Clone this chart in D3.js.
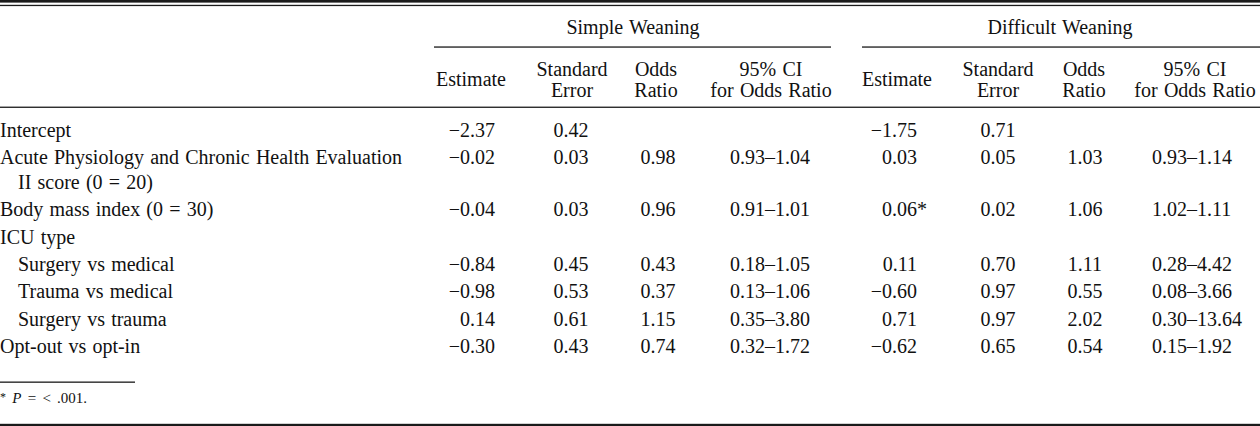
<!DOCTYPE html>
<html>
<head>
<meta charset="utf-8">
<script src="https://cdn.jsdelivr.net/npm/d3@7"></script>
<style>
  html, body { margin: 0; padding: 0; background: #fff; }
  svg { display: block; }
  text { font-family: "Liberation Serif", "Times New Roman", serif; fill: #111; word-spacing: 1.2px; }
</style>
</head>
<body>
<svg id="chart" width="1260" height="426"></svg>
<script>
// ---------- data ----------
const groups = ["Simple Weaning", "Difficult Weaning"];
const colHeaders = [["Estimate"], ["Standard", "Error"], ["Odds", "Ratio"], ["95% CI", "for Odds Ratio"]];
const rowLabels = [
  ["Intercept"],
  ["Acute Physiology and Chronic Health Evaluation", "II score (0 = 20)"],
  ["Body mass index (0 = 30)"],
  ["ICU type"],
  ["Surgery vs medical"],
  ["Trauma vs medical"],
  ["Surgery vs trauma"],
  ["Opt-out vs opt-in"]
];
const rowIndent = [false, false, false, false, true, true, true, false];

const simpleEstimate = [-2.37, -0.02, -0.04, null, -0.84, -0.98, 0.14, -0.30];
const simpleSE       = [0.42, 0.03, 0.03, null, 0.45, 0.53, 0.61, 0.43];
const simpleOR       = [null, 0.98, 0.96, null, 0.43, 0.37, 1.15, 0.74];
const simpleCILow    = [null, 0.93, 0.91, null, 0.18, 0.13, 0.35, 0.32];
const simpleCIHigh   = [null, 1.04, 1.01, null, 1.05, 1.06, 3.80, 1.72];

const difficultEstimate = [-1.75, 0.03, 0.06, null, 0.11, -0.60, 0.71, -0.62];
const difficultSE       = [0.71, 0.05, 0.02, null, 0.70, 0.97, 0.97, 0.65];
const difficultOR       = [null, 1.03, 1.06, null, 1.11, 0.55, 2.02, 0.54];
const difficultCILow    = [null, 0.93, 1.02, null, 0.28, 0.08, 0.30, 0.15];
const difficultCIHigh   = [null, 1.14, 1.11, null, 4.42, 3.66, 13.64, 1.92];
const difficultSignificant = [false, false, true, false, false, false, false, false];

const footnote = "P = < .001.";

// ---------- layout ----------
const W = 1260, H = 426;
const FS = 20;
const svg = d3.select("#chart");

const fmt = v => (v < 0 ? "\u2212" : "") + d3.format(".2f")(Math.abs(v));

// row baselines through a linear scale (row index -> baseline), with extra room after wrapped row
const rowY = d3.scaleLinear().domain([0, 7]).range([137, 137 + 7 * 27.4]);
const wrapGap = 24.4;
const baseline = i => rowY(i) + (i >= 2 ? wrapGap : 0);

// column anchor positions per group
const groupCols = [
  { est: 495, se: 571, or: 658, ci: 730, head: [471, 572, 656, 771], title: 633, rule: [434, 831] },
  { est: 917, se: 998, or: 1085, ci: 1152, head: [897, 998, 1084, 1195], title: 1060, rule: [862, 1260] }
];

// rules
const ink = "#1a1a1a";
svg.append("rect").attr("x", 0).attr("y", 0).attr("width", W).attr("height", 2.6).attr("fill", ink);
svg.append("rect").attr("x", 0).attr("y", 4.8).attr("width", W).attr("height", 1.3).attr("fill", ink);
svg.append("rect").attr("x", 0).attr("y", 106.6).attr("width", W).attr("height", 1.3).attr("fill", ink);
svg.append("rect").attr("x", 0).attr("y", 381.5).attr("width", 135).attr("height", 1.3).attr("fill", ink);
svg.append("rect").attr("x", 0).attr("y", 423.8).attr("width", W).attr("height", 2.2).attr("fill", ink);

// group headers
groups.forEach((g, gi) => {
  const c = groupCols[gi];
  svg.append("text").attr("x", c.title).attr("y", 34).attr("text-anchor", "middle")
    .attr("font-size", FS).text(g);
  svg.append("rect").attr("x", c.rule[0]).attr("y", 46.4).attr("width", c.rule[1] - c.rule[0])
    .attr("height", 1.3).attr("fill", ink);
  colHeaders.forEach((lines, ci) => {
    const t = svg.append("text").attr("text-anchor", "middle").attr("font-size", FS);
    if (lines.length === 1) {
      t.attr("x", c.head[ci]).attr("y", 86).text(lines[0]);
    } else {
      lines.forEach((l, li) => {
        t.append("tspan").attr("x", c.head[ci]).attr("y", 76 + li * 21).text(l);
      });
    }
  });
});

// row labels
rowLabels.forEach((lines, i) => {
  lines.forEach((l, li) => {
    svg.append("text")
      .attr("x", (rowIndent[i] || li > 0) ? 18 : 0)
      .attr("y", baseline(i) + li * wrapGap)
      .attr("font-size", FS)
      .text(l);
  });
});

// values
const series = [
  { est: simpleEstimate, se: simpleSE, or: simpleOR, lo: simpleCILow, hi: simpleCIHigh, sig: simpleEstimate.map(() => false) },
  { est: difficultEstimate, se: difficultSE, or: difficultOR, lo: difficultCILow, hi: difficultCIHigh, sig: difficultSignificant }
];

series.forEach((s, gi) => {
  const c = groupCols[gi];
  const idx = d3.range(rowLabels.length);
  const gEst = svg.append("g");
  gEst.selectAll("text.est").data(idx.filter(i => s.est[i] != null)).join("text")
    .attr("class", "est")
    .attr("x", c.est).attr("y", baseline).attr("text-anchor", "end").attr("font-size", FS)
    .text(i => fmt(s.est[i]));
  gEst.selectAll("text.sig").data(idx.filter(i => s.sig[i])).join("text")
    .attr("class", "sig")
    .attr("x", c.est).attr("y", baseline).attr("text-anchor", "start").attr("font-size", FS)
    .text("*");
  svg.append("g").selectAll("text").data(idx.filter(i => s.se[i] != null)).join("text")
    .attr("x", c.se).attr("y", baseline).attr("text-anchor", "middle").attr("font-size", FS)
    .text(i => fmt(s.se[i]));
  svg.append("g").selectAll("text").data(idx.filter(i => s.or[i] != null)).join("text")
    .attr("x", c.or).attr("y", baseline).attr("text-anchor", "middle").attr("font-size", FS)
    .text(i => fmt(s.or[i]));
  svg.append("g").selectAll("text").data(idx.filter(i => s.lo[i] != null)).join("text")
    .attr("x", c.ci).attr("y", baseline).attr("text-anchor", "start").attr("font-size", FS)
    .text(i => fmt(s.lo[i]) + "\u2013" + fmt(s.hi[i]));
});

// footnote
const fn = svg.append("text").attr("x", 0).attr("y", 403).attr("font-size", 15).style("word-spacing", "2.5px");
fn.append("tspan").attr("font-size", 12).attr("dy", -2).text("*");
fn.append("tspan").attr("dy", 2).text(" ");
fn.append("tspan").attr("font-style", "italic").text("P");
fn.append("tspan").text(" " + footnote.slice(2));
</script>
</body>
</html>
